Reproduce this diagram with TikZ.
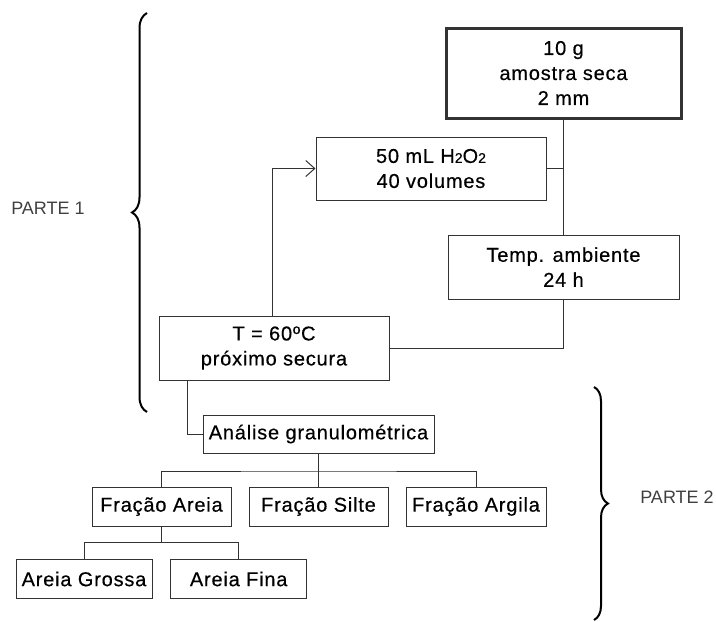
\documentclass[tikz,border=0pt]{standalone}
\usepackage{fontspec}
\setmainfont{Liberation Sans}
\newfontfamily\boxfont[FakeBold=0.4,LetterSpace=4]{Liberation Sans}
\usetikzlibrary{arrows.meta,decorations.pathreplacing}
\newcommand{\smalltwo}{{\fontsize{14}{14}\selectfont 2}}
\begin{document}
\begin{tikzpicture}[x=1pt,y=-1pt,
  box/.style={draw=black!80,line width=1pt,inner sep=0pt,align=center,
    font=\boxfont\fontsize{20}{25}\selectfont},
  conn/.style={draw=black!80,line width=1pt},
  bracestyle/.style={draw=black,line width=2pt,decorate},
  partlabel/.style={text=black!75,font=\fontsize{18}{22}\selectfont,inner sep=0pt}]
\useasboundingbox (0,0) rectangle (716,622);

\node[box,line width=3pt,minimum width=235pt,minimum height=90pt] (sample) at (563.5,73) {10 g\\amostra seca\\2 mm};
\node[box,minimum width=230pt,minimum height=63pt] (h2o2) at (431,168.5) {50 mL H\smalltwo O\smalltwo\\40 volumes};
\node[box,minimum width=231pt,minimum height=64pt] (temp) at (563.5,267) {Temp. ambiente\\24 h};
\node[box,minimum width=230pt,minimum height=64pt] (tbox) at (274,348) {T = 60ºC\\próximo secura};
\node[box,minimum width=231pt,minimum height=38pt] (analise) at (318.5,434) {Análise granulométrica};
\node[box,minimum width=139pt,minimum height=39pt] (areia) at (161.5,506.5) {Fração Areia};
\node[box,minimum width=139pt,minimum height=39pt] (silte) at (318.5,506.5) {Fração Silte};
\node[box,minimum width=140pt,minimum height=39pt] (argila) at (476,506.5) {Fração Argila};
\node[box,minimum width=136pt,minimum height=39pt] (grossa) at (84,579) {Areia Grossa};
\node[box,minimum width=136pt,minimum height=39pt] (fina) at (238.7,579) {Areia Fina};

\node[partlabel] (p1) at (48,208) {PARTE 1};
\node[partlabel] (p2) at (677,497) {PARTE 2};

\draw[conn] (sample.south) -- (temp.north);
\draw[conn] (h2o2.east) -- (h2o2.east -| sample.south);
\draw[conn] (temp.south) |- (tbox.east);
\draw[conn,-{Straight Barb[length=9pt,width=16pt]}] ([xshift=-2pt]tbox.north) |- (h2o2.west);
\draw[conn] ([xshift=-87pt]tbox.south) |- (analise.west);

\coordinate (j1) at (318.5,471);
\draw[conn] (analise.south) -- (j1);
\draw[conn] (areia.north) |- (j1) -| (argila.north);
\draw[conn] (j1) -- (silte.north);

\coordinate (j2) at (161.5,542.5);
\draw[conn] (areia.south) -- (j2);
\draw[conn] (grossa.north) |- (j2) -| (fina.north);

\draw[bracestyle,decoration={brace,amplitude=15pt}] (147,412) -- (147,13);
\draw[bracestyle,decoration={brace,amplitude=14pt}] (594,387) -- (594,620);
\end{tikzpicture}
\end{document}
